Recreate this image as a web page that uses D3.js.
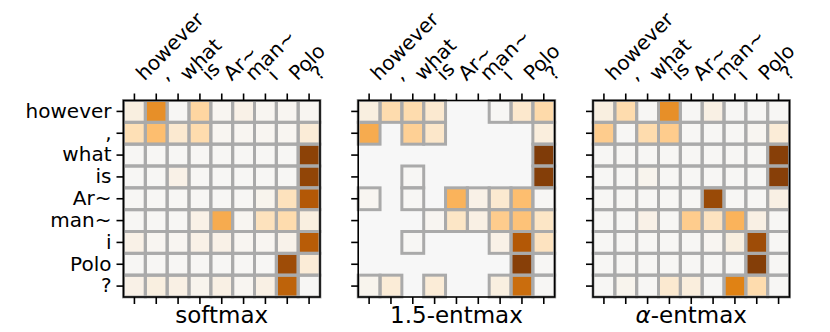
<!DOCTYPE html>
<html>
<head>
<meta charset="utf-8">
<script src="https://cdn.jsdelivr.net/npm/d3@7"></script>
<style>
  html, body { margin: 0; padding: 0; background: #fff; }
  svg { display: block; font-family: "DejaVu Sans", sans-serif; }
</style>
</head>
<body>
<svg id="chart" width="830" height="332"></svg>
<script>
const tokens = ["however", ",", "what", "is", "Ar~", "man~", "i", "Polo", "?"];
const titles = ["softmax", "1.5-entmax", "α-entmax"];

// rows = query token, columns = key token; null = exactly zero (masked cell)
const softmax = [
  [0.07, 0.55, 0.01, 0.25, 0.02, 0.05, 0.02, 0.02, 0.02],
  [0.20, 0.37, 0.12, 0.22, 0.02, 0.02, 0.02, 0.02, 0.10],
  [0.01, 0.01, 0.01, 0.01, 0.01, 0.01, 0.01, 0.01, 0.95],
  [0.01, 0.01, 0.05, 0.01, 0.01, 0.01, 0.01, 0.01, 0.93],
  [0.01, 0.01, 0.01, 0.01, 0.01, 0.01, 0.03, 0.18, 0.80],
  [0.01, 0.01, 0.01, 0.05, 0.45, 0.02, 0.18, 0.22, 0.07],
  [0.05, 0.02, 0.02, 0.05, 0.05, 0.02, 0.02, 0.04, 0.78],
  [0.01, 0.01, 0.01, 0.01, 0.01, 0.01, 0.01, 0.88, 0.10],
  [0.05, 0.07, 0.06, 0.03, 0.06, 0.02, 0.06, 0.75, 0.01]
];
const entmax15 = [
  [0.07, 0.22, 0.22, 0.12, null, null, 0.01, 0.13, 0.23],
  [0.45, null, 0.28, 0.14, null, null, null, null, 0.08],
  [null, null, null, null, null, null, null, null, 1.00],
  [null, null, 0.01, null, null, null, null, null, 0.98],
  [0.02, null, 0.01, null, 0.42, 0.05, 0.12, 0.37, 0.01],
  [null, null, null, 0.02, 0.15, 0.06, 0.30, 0.35, 0.15],
  [null, null, 0.01, null, null, null, 0.05, 0.80, 0.17],
  [null, null, null, null, null, null, null, 0.97, 0.01],
  [0.03, 0.10, null, 0.10, null, null, 0.07, 0.70, 0.01]
];
const entmaxAlpha = [
  [0.07, 0.22, 0.01, 0.55, 0.01, 0.06, 0.01, 0.01, 0.01],
  [0.30, 0.01, 0.22, 0.30, 0.01, 0.01, 0.01, 0.02, 0.10],
  [0.01, 0.01, 0.01, 0.01, 0.01, 0.01, 0.01, 0.01, 0.97],
  [0.01, 0.01, 0.03, 0.01, 0.01, 0.01, 0.01, 0.01, 0.97],
  [0.01, 0.01, 0.01, 0.01, 0.01, 0.90, 0.01, 0.01, 0.06],
  [0.01, 0.01, 0.05, 0.01, 0.30, 0.17, 0.42, 0.06, 0.01],
  [0.01, 0.01, 0.01, 0.01, 0.01, 0.02, 0.07, 0.88, 0.01],
  [0.01, 0.01, 0.01, 0.01, 0.01, 0.01, 0.01, 0.98, 0.01],
  [0.01, 0.03, 0.01, 0.12, 0.08, 0.01, 0.60, 0.22, 0.01]
];
const panels = [softmax, entmax15, entmaxAlpha];

// orange half of the PuOr colour map
const colorStops = ["#f7f7f7", "#fee0b6", "#fdb863", "#e08214", "#b35806", "#7f3b08"];
const color = d3.scaleLinear()
  .domain(d3.range(colorStops.length).map(i => i / (colorStops.length - 1)))
  .range(colorStops)
  .interpolate(d3.interpolateRgb)
  .clamp(true);

const svg = d3.select("#chart");
const panelLeft = [123.5, 358.2, 593];
const topY = 100.5, size = 196.5;

panels.forEach((data, p) => {
  const x0 = panelLeft[p];
  const x = d3.scaleBand().domain(tokens).range([x0, x0 + size]);
  const y = d3.scaleBand().domain(tokens).range([topY, topY + size]);
  const g = svg.append("g");

  // background (masked zeros)
  g.append("rect").attr("x", x0).attr("y", topY).attr("width", size).attr("height", size)
    .attr("fill", color(0));

  const cells = [];
  data.forEach((row, r) => row.forEach((v, c) => {
    if (v !== null) cells.push({ r: tokens[r], c: tokens[c], v });
  }));

  g.selectAll("rect.fill").data(cells).enter().append("rect")
    .attr("class", "fill")
    .attr("x", d => x(d.c)).attr("y", d => y(d.r))
    .attr("width", x.bandwidth()).attr("height", y.bandwidth())
    .attr("fill", d => color(d.v));

  g.selectAll("rect.edge").data(cells).enter().append("rect")
    .attr("class", "edge")
    .attr("x", d => x(d.c)).attr("y", d => y(d.r))
    .attr("width", x.bandwidth()).attr("height", y.bandwidth())
    .attr("fill", "none").attr("stroke", "#aaaaaa").attr("stroke-width", 3);

  // frame
  g.append("rect").attr("x", x0).attr("y", topY).attr("width", size).attr("height", size)
    .attr("fill", "none").attr("stroke", "#000").attr("stroke-width", 1.6);

  // axes
  const axTop = g.append("g").attr("transform", `translate(0,${topY})`)
    .call(d3.axisTop(x).tickSize(7).tickSizeOuter(0));
  axTop.select(".domain").remove();
  axTop.selectAll("line").attr("stroke", "#000").attr("stroke-width", 1.6);
  axTop.selectAll("text")
    .attr("font-size", 20).attr("fill", "#000")
    .attr("font-family", "DejaVu Sans")
    .attr("text-anchor", "start")
    .attr("x", 0).attr("y", 0).attr("dy", 0)
    .attr("transform", "translate(10,-19) rotate(-45)");

  const axBot = g.append("g").attr("transform", `translate(0,${topY + size})`)
    .call(d3.axisBottom(x).tickSize(7).tickSizeOuter(0).tickFormat(""));
  axBot.select(".domain").remove();
  axBot.selectAll("line").attr("stroke", "#000").attr("stroke-width", 1.6);

  const axLeft = g.append("g").attr("transform", `translate(${x0},0)`)
    .call(d3.axisLeft(y).tickSize(7).tickPadding(5).tickSizeOuter(0)
      .tickFormat(p === 0 ? (d => d) : ""));
  axLeft.select(".domain").remove();
  axLeft.selectAll("line").attr("stroke", "#000").attr("stroke-width", 1.6);
  axLeft.selectAll("text").attr("font-size", 20).attr("fill", "#000")
    .attr("font-family", "DejaVu Sans");

  // title under panel
  const t = g.append("text")
    .attr("x", x0 + size / 2).attr("y", 323)
    .attr("text-anchor", "middle").attr("font-size", 23).attr("fill", "#000");
  const title = titles[p];
  if (title.startsWith("α")) {
    t.append("tspan").attr("font-style", "italic").text("α");
    t.append("tspan").text(title.slice(1));
  } else {
    t.text(title);
  }
});
</script>
</body>
</html>
